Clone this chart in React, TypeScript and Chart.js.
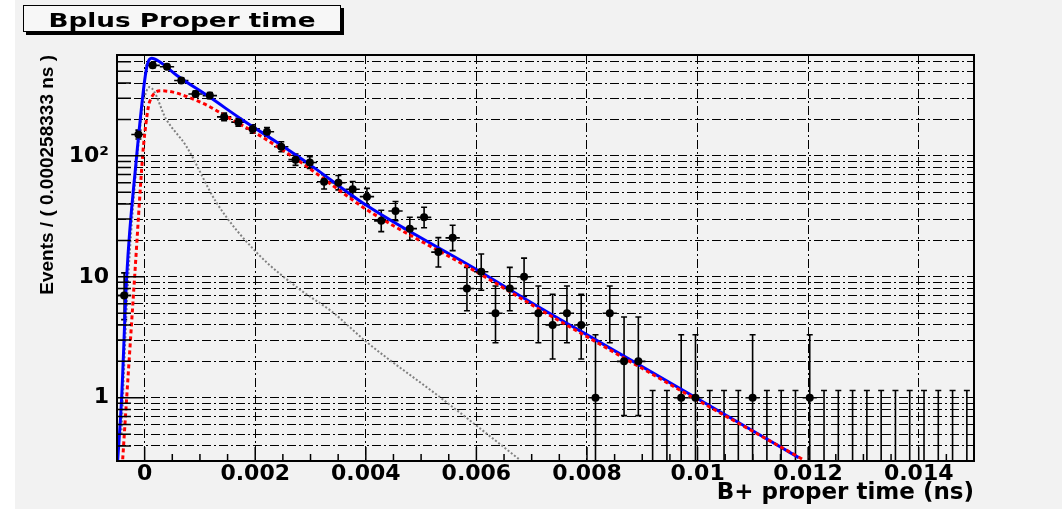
import React, { useEffect, useRef } from 'react';
import { Chart, registerables } from 'chart.js';

Chart.register(...registerables);

// ---- text ----
const TITLE = 'Bplus Proper time';
const X_TITLE = 'B+ proper time (ns)';
const Y_TITLE = 'Events / ( 0.000258333 ns )';

// ---- axes ----
const T_MIN = -0.0005;
const T_MAX = 0.015;
const BIN_WIDTH = 0.000258333;
const Y_MIN = 0.315;
const Y_MAX = 682;

const xTickValues = [0, 0.002, 0.004, 0.006, 0.008, 0.01, 0.012, 0.014];
const xTickLabels = ['0', '0.002', '0.004', '0.006', '0.008', '0.01', '0.012', '0.014'];
const yGridValues = [
  0.4, 0.5, 0.6, 0.7, 0.8, 0.9,
  1, 2, 3, 4, 5, 6, 7, 8, 9,
  10, 20, 30, 40, 50, 60, 70, 80, 90,
  100, 200, 300, 400, 500, 600,
];
const yLabelValues = [1, 10, 100];
const yLabelTexts = ['1', '10', '10\u00b2'];

// ---- data: events per bin (60 bins from -0.0005 to 0.015 ns) ----
const counts = [
  7, 150, 560, 545, 420, 325, 315, 210, 190, 167,
  158, 119, 93, 88, 61, 60, 53, 46, 29, 35,
  25, 31, 16, 21, 8, 11, 5, 8, 10, 5,
  4, 5, 4, 1, 5, 2, 2, 0, 0, 1,
  1, 0, 0, 0, 1, 0, 0, 0, 1, 0,
  0, 0, 0, 0, 0, 0, 0, 0, 0, 0,
];

// ---- fit curves ----
const totalT = [-0.0005, -0.000416, -0.000325, -0.000145, -0.000108, 0.0, 0.000054, 0.000126, 0.00027, 0.000578, 0.001174, 0.001771, 0.002385, 0.002981, 0.004011, 0.006, 0.007136, 0.00822, 0.00994, 0.01183];
const totalV = [0.25, 1, 10, 100, 149, 420, 580, 641, 600, 464, 306, 198, 130, 85, 39, 11.5, 5.6, 2.9, 1.02, 0.32];

const signalT = [-0.000397, -0.000325, -0.000181, -0.000036, 0.0, 0.00009, 0.000307, 0.000994, 0.00159, 0.002024, 0.0028, 0.00365, 0.004011, 0.006, 0.007136, 0.00822, 0.00994, 0.0119];
const signalV = [0.31, 1, 10, 100, 150, 280, 345, 280, 198, 153, 90, 47, 36, 11.0, 5.4, 2.8, 0.99, 0.31];

const bkgT = [-0.00042, -0.000307, -0.000145, -0.000036, 0.00009, 0.000397, 0.000759, 0.0013, 0.002024, 0.0028, 0.0034, 0.00401, 0.00533, 0.006775];
const bkgV = [0.5, 8, 85, 250, 370, 198, 119, 41, 15.9, 7.9, 5.1, 2.9, 1.02, 0.31];

// Poisson 68% interval (Gehrels approximation) for the error bars
function poissonBand(n: number): [number, number] {
  if (n === 0) return [0, 1.148];
  const lo = n * Math.pow(1 - 1 / (9 * n) - 1 / (3 * Math.sqrt(n)), 3);
  const hi = n + Math.sqrt(n + 0.75) + 1;
  return [lo, hi];
}

const binCenter = (i: number) => T_MIN + (i + 0.5) * BIN_WIDTH;

const backgroundPlugin = {
  id: 'rootBackground',
  beforeDraw(chart: any) {
    const { ctx, width, height } = chart;
    ctx.save();
    ctx.fillStyle = '#ffffff';
    ctx.fillRect(0, 0, width, height);
    ctx.fillStyle = '#f2f2f2';
    ctx.fillRect(15, 0, width - 15, height);
    ctx.restore();
  },
};

const errorBarPlugin = {
  id: 'errorBars',
  beforeDatasetsDraw(chart: any) {
    const { ctx, chartArea, scales } = chart;
    const xs = scales.x;
    const ys = scales.y;
    ctx.save();
    ctx.beginPath();
    ctx.rect(chartArea.left, chartArea.top, chartArea.right - chartArea.left, chartArea.bottom - chartArea.top);
    ctx.clip();
    ctx.strokeStyle = '#000';
    ctx.lineWidth = 1.6;
    counts.forEach((n, i) => {
      const c = binCenter(i);
      const px = xs.getPixelForValue(c);
      const [lo, hi] = poissonBand(n);
      const yHi = ys.getPixelForValue(hi);
      const yLo = lo > 0 ? ys.getPixelForValue(lo) : chartArea.bottom + 5;
      ctx.beginPath();
      ctx.moveTo(px, yLo);
      ctx.lineTo(px, yHi);
      ctx.moveTo(px - 3, yHi);
      ctx.lineTo(px + 3, yHi);
      if (lo > 0) {
        ctx.moveTo(px - 3, yLo);
        ctx.lineTo(px + 3, yLo);
      }
      if (n > 0) {
        const yc = ys.getPixelForValue(n);
        ctx.moveTo(xs.getPixelForValue(c - BIN_WIDTH / 2), yc);
        ctx.lineTo(xs.getPixelForValue(c + BIN_WIDTH / 2), yc);
      }
      ctx.stroke();
    });
    ctx.restore();
  },
};

const framePlugin = {
  id: 'rootFrame',
  afterDatasetsDraw(chart: any) {
    const { ctx, chartArea, scales } = chart;
    const xs = scales.x;
    const ys = scales.y;
    ctx.save();
    ctx.strokeStyle = '#000';
    ctx.lineWidth = 1.5;
    ctx.beginPath();
    yGridValues.forEach((v) => {
      const py = ys.getPixelForValue(v);
      const len = yLabelValues.includes(v) ? 28 : 14;
      ctx.moveTo(chartArea.left, py);
      ctx.lineTo(chartArea.left + len, py);
    });
    xTickValues.forEach((v) => {
      const px = xs.getPixelForValue(v);
      ctx.moveTo(px, chartArea.bottom);
      ctx.lineTo(px, chartArea.bottom - 14);
    });
    for (let k = 0; k < 30; k++) {
      const v = 0.0005 * k;
      if (k % 4 === 0) continue;
      const px = xs.getPixelForValue(v);
      ctx.moveTo(px, chartArea.bottom);
      ctx.lineTo(px, chartArea.bottom - 7);
    }
    ctx.stroke();
    ctx.lineWidth = 2;
    ctx.strokeRect(chartArea.left, chartArea.top, chartArea.right - chartArea.left, chartArea.bottom - chartArea.top);
    ctx.restore();
  },
};

const titleBoxPlugin = {
  id: 'titleBox',
  afterDraw(chart: any) {
    const { ctx } = chart;
    ctx.save();
    ctx.fillStyle = '#000';
    ctx.fillRect(26, 8, 318, 27);
    ctx.fillStyle = '#f7f7f7';
    ctx.fillRect(23, 5, 318, 27);
    ctx.strokeStyle = '#000';
    ctx.lineWidth = 1;
    ctx.strokeRect(23.5, 5.5, 317, 26);
    ctx.font = 'bold 20px "DejaVu Sans"';
    ctx.fillStyle = '#000';
    ctx.textBaseline = 'alphabetic';
    ctx.textAlign = 'center';
    const w = ctx.measureText(TITLE).width;
    const sx = 267 / w;
    ctx.translate(182, 27);
    ctx.scale(sx, 1);
    ctx.fillText(TITLE, 0, 0);
    ctx.restore();
  },
};

const dash = [9, 3, 2, 3];

export default function App() {
  const ref = useRef<HTMLCanvasElement | null>(null);

  useEffect(() => {
    document.body.style.margin = '0';
    document.body.style.background = '#f2f2f2';
    document.documentElement.style.background = '#f2f2f2';
    document.body.style.overflow = 'hidden';
    const canvas = ref.current;
    if (!canvas) return;
    const chart = new Chart(canvas, {
      type: 'line',
      data: {
        datasets: [
          {
            label: 'data',
            data: counts.map((n, i) => ({ x: binCenter(i), y: n > 0 ? n : null })),
            showLine: false,
            pointRadius: 4,
            pointBackgroundColor: '#000',
            pointBorderWidth: 0,
            order: 0,
          },
          {
            label: 'signal',
            data: signalT.map((t, i) => ({ x: t, y: signalV[i] })),
            borderColor: '#ff0000',
            borderWidth: 3,
            borderDash: [4, 3],
            pointRadius: 0,
            cubicInterpolationMode: 'monotone',
            order: 1,
          },
          {
            label: 'total',
            data: totalT.map((t, i) => ({ x: t, y: totalV[i] })),
            borderColor: '#0000ff',
            borderWidth: 3,
            pointRadius: 0,
            cubicInterpolationMode: 'monotone',
            order: 2,
          },
          {
            label: 'background',
            data: bkgT.map((t, i) => ({ x: t, y: bkgV[i] })),
            borderColor: '#808080',
            borderWidth: 2,
            borderDash: [2, 2],
            pointRadius: 0,
            cubicInterpolationMode: 'monotone',
            order: 3,
          },
        ],
      },
      options: {
        responsive: false,
        animation: false,
        devicePixelRatio: 1,
        layout: { padding: { left: 36, top: 55, right: 88, bottom: 0 } },
        plugins: {
          legend: { display: false },
          tooltip: { enabled: false },
          title: { display: false },
        },
        scales: {
          x: {
            type: 'linear',
            min: T_MIN,
            max: T_MAX,
            afterBuildTicks: (s: any) => {
              s.ticks = xTickValues.map((v) => ({ value: v }));
            },
            afterFit: (s: any) => {
              s.height = 48;
            },
            ticks: {
              autoSkip: false,
              maxRotation: 0,
              padding: 0,
              color: '#000',
              font: { family: '"DejaVu Sans"', weight: 'bold', size: 22 },
              callback: (_v: any, i: number) => xTickLabels[i],
            },
            grid: { drawTicks: false, color: '#000', lineWidth: 1 },
            border: { display: false, dash },
            title: {
              display: true,
              text: X_TITLE,
              align: 'end',
              color: '#000',
              font: { family: '"DejaVu Sans"', weight: 'bold', size: 23 },
              padding: { top: 0, bottom: 2 },
            },
          },
          y: {
            type: 'logarithmic',
            min: Y_MIN,
            max: Y_MAX,
            afterBuildTicks: (s: any) => {
              s.ticks = yGridValues.map((v) => ({ value: v }));
            },
            afterFit: (s: any) => {
              s.width = 81;
            },
            ticks: {
              autoSkip: false,
              padding: 8,
              color: '#000',
              font: { family: '"DejaVu Sans"', weight: 'bold', size: 22 },
              callback: (v: any) => {
                const k = yLabelValues.indexOf(Number(v));
                return k >= 0 ? yLabelTexts[k] : '';
              },
            },
            grid: { drawTicks: false, color: '#000', lineWidth: 1 },
            border: { display: false, dash },
            title: {
              display: true,
              text: Y_TITLE,
              align: 'end',
              color: '#000',
              font: { family: '"Liberation Sans"', weight: 'bold', size: 19 },
              padding: { top: 0, bottom: 0 },
            },
          },
        },
      },
      plugins: [backgroundPlugin, errorBarPlugin, framePlugin, titleBoxPlugin],
    } as any);
    return () => chart.destroy();
  }, []);

  return (
    <div style={{ position: 'relative', width: 1062, height: 509 }}>
      <canvas ref={ref} width={1062} height={509} style={{ display: 'block' }} />
    </div>
  );
}
